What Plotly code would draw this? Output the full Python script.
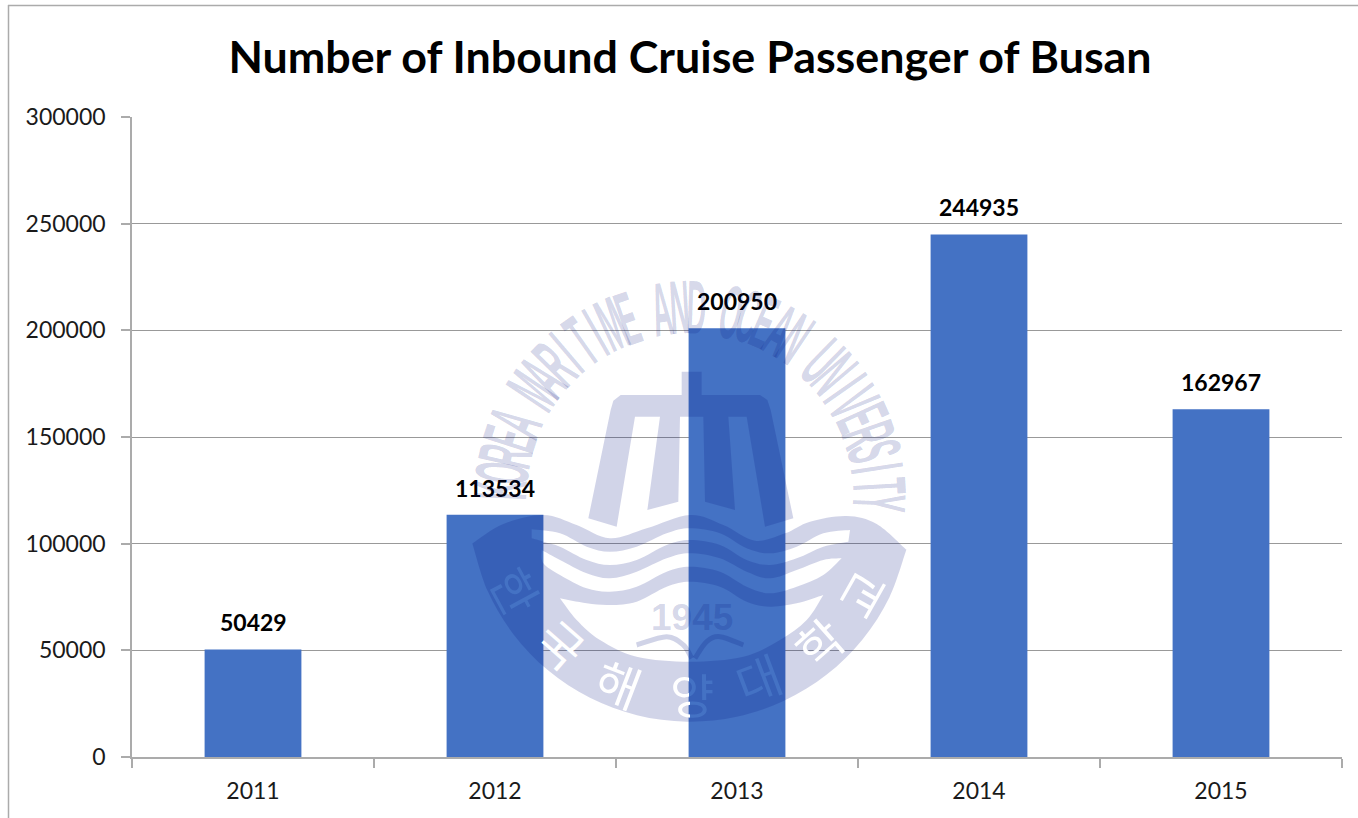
import math
import plotly.graph_objects as go

years = ["2011", "2012", "2013", "2014", "2015"]
passengers = [50429, 113534, 200950, 244935, 162967]
y_ticks = [0, 50000, 100000, 150000, 200000, 250000, 300000]
title_text = "Number of Inbound Cruise Passenger of Busan"
ring_text = "KOREA MARITIME AND OCEAN UNIVERSITY"
seal_korean = ["한", "국", "해", "양", "대", "학", "교"]
seal_year = "1945"

W, H = 1358, 818
L, R, T, B = 132, 1342, 117, 757
BAR = "#4472C4"
AXIS = "#ABABAB"
GRID = "#999999"
MARK = "rgb(0,17,125)"
MARK_A = "rgba(0,17,125,0.18)"
MARK_OP = 0.18


def px(x, y):
    return (x - L) / (R - L), (B - y) / (B - T)


def zm(p):
    return p[0] / 3 + 460, p[1] / 3 + 270


def fmt(p):
    a, b = px(*zm(p))
    return f"{a:.5f},{b:.5f}"


def curve(pts):
    """Catmull-Rom through pts, as cubic segments; assumes the pen is at pts[0]."""
    out = []
    for i in range(len(pts) - 1):
        p0 = pts[max(i - 1, 0)]
        p1 = pts[i]
        p2 = pts[i + 1]
        p3 = pts[min(i + 2, len(pts) - 1)]
        c1 = (p1[0] + (p2[0] - p0[0]) / 6, p1[1] + (p2[1] - p0[1]) / 6)
        c2 = (p2[0] - (p3[0] - p1[0]) / 6, p2[1] - (p3[1] - p1[1]) / 6)
        out.append(f"C{fmt(c1)} {fmt(c2)} {fmt(p2)}")
    return " ".join(out)


def closed(*parts):
    d = "M" + fmt(parts[0][0])
    for part in parts:
        d += f" L{fmt(part[0])} " + curve(part)
    return d + " Z"


# ---- emblem outlines (decoration, in reference crop coordinates)
top_wave = [(38, 820), (130, 762), (250, 735), (350, 765), (450, 805), (560, 775), (690, 735),
            (790, 765), (885, 812), (975, 790), (1050, 755), (1160, 738), (1250, 762), (1340, 840)]
cx, cy, rad = 690, 689, 666
a0 = math.atan2(840 - cy, 1340 - cx)
a1 = math.atan2(820 - cy, 38 - cx)
arc = [(cx + rad * math.cos(a0 + (a1 - a0) * i / 12), cy + rad * math.sin(a0 + (a1 - a0) * i / 12)) for i in range(13)]

hole1_top = [(215, 778), (300, 790), (380, 830), (450, 845), (530, 830), (620, 790), (690, 775),
             (780, 790), (860, 835), (930, 850), (1010, 830), (1090, 790), (1170, 780)]
hole1_bot = [(1165, 815), (1090, 830), (1010, 865), (930, 885), (860, 870), (780, 825), (690, 810),
             (620, 825), (530, 870), (450, 885), (380, 870), (300, 830), (250, 815), (215, 805)]
hole2_top = [(245, 840), (300, 870), (380, 910), (450, 925), (530, 905), (620, 865), (690, 850),
             (780, 865), (860, 905), (930, 925), (1010, 900), (1090, 870), (1145, 865)]
hole2_bot = [(1145, 865), (1090, 915), (1010, 950), (930, 970), (860, 950), (780, 905), (690, 890),
             (620, 905), (530, 950), (450, 965), (380, 955), (300, 915), (250, 880), (245, 840)]
hole3_top = [(300, 985), (380, 1000), (450, 1005), (530, 995), (620, 950), (690, 935), (780, 950),
             (860, 995), (930, 1010), (1010, 1000), (1090, 975)]
hole3_bot = [(1090, 975), (1040, 1050), (960, 1110), (850, 1160), (690, 1175), (530, 1160),
             (420, 1110), (350, 1050), (300, 985)]
mast = [(385, 745), (452, 420), (460, 392), (482, 375), (665, 375), (665, 305), (725, 305), (725, 375),
        (900, 375), (922, 390), (932, 420), (1000, 745), (915, 770), (860, 440), (805, 440), (825, 720),
        (735, 695), (730, 440), (660, 440), (655, 695), (562, 720), (600, 440), (525, 440), (470, 770)]

band_path = " ".join([closed(top_wave, arc), closed(hole1_top, hole1_bot), closed(hole2_top, hole2_bot),
                      closed(hole3_top, hole3_bot)])
mast_path = "M" + " L".join(fmt(p) for p in mast) + " Z"
ship_l = [(530, 1125), (620, 1100), (670, 1125), (695, 1165)]
ship_r = [(705, 1165), (740, 1115), (780, 1100), (850, 1125)]

shapes = [
    dict(type="line", xref="paper", yref="paper", x0=px(8.5, 0)[0], x1=px(8.5, 0)[0], y0=px(0, 5)[1], y1=px(0, 818)[1],
         line=dict(color=AXIS, width=1.5)),
    dict(type="line", xref="paper", yref="paper", x0=px(8, 0)[0], x1=px(1358, 0)[0], y0=px(0, 5.5)[1], y1=px(0, 5.5)[1],
         line=dict(color=AXIS, width=1.5)),
    dict(type="path", xref="paper", yref="paper", path=band_path, fillcolor=MARK, opacity=MARK_OP,
         line=dict(width=0), layer="above"),
    dict(type="path", xref="paper", yref="paper", path=mast_path, fillcolor=MARK, opacity=MARK_OP,
         line=dict(width=0), layer="above"),
]
for s in (ship_l, ship_r):
    shapes.append(dict(type="path", xref="paper", yref="paper", path="M" + fmt(s[0]) + " " + curve(s),
                       fillcolor="rgba(0,0,0,0)", opacity=MARK_OP, line=dict(color=MARK, width=5), layer="above"))

annotations = []
# data labels, anchored through the category index and value axes
for i, v in enumerate(passengers):
    annotations.append(dict(x=i, y=v, xref="x", yref="y", text=str(v), showarrow=False, yanchor="bottom",
                            yshift=11, font=dict(family="Lato", size=23, color="#000000", weight="bold")))

# ring letters
ccx, ccy, ring_r = 690, 497, 190
start, end = -88, 92
n = len(ring_text)
for i, ch in enumerate(ring_text):
    if ch == " ":
        continue
    ang = start + (end - start) * i / (n - 1)
    x = ccx + ring_r * math.sin(math.radians(ang))
    y = ccy - ring_r * math.cos(math.radians(ang))
    ax, ay = px(x, y)
    annotations.append(dict(x=ax, y=ay, xref="paper", yref="paper", text=ch, showarrow=False, textangle=ang,
                            xanchor="center", yanchor="middle",
                            font=dict(family="Liberation Sans", size=40, color=MARK_A, weight="bold")))

# Korean letters knocked out of the crescent
kor_pos = [(517, 590), (562, 643), (619, 682), (692, 693), (758, 677), (818, 642), (860, 593)]
kor_col = [BAR, "#FFFFFF", "#FFFFFF", "#FFFFFF", BAR, "#FFFFFF", "#FFFFFF"]
for ch, (x, y), c in zip(seal_korean, kor_pos, kor_col):
    ang = math.degrees(math.atan2(ccx - x, y - ccy))
    ax, ay = px(x, y)
    annotations.append(dict(x=ax, y=ay, xref="paper", yref="paper", text=ch, showarrow=False, textangle=ang,
                            xanchor="center", yanchor="middle",
                            font=dict(family="Noto Sans CJK KR", size=48, color=c)))

ax, ay = px(692, 617)
annotations.append(dict(x=ax, y=ay, xref="paper", yref="paper", text=seal_year, showarrow=False,
                        xanchor="center", yanchor="middle",
                        font=dict(family="Liberation Sans", size=37, color=MARK_A, weight="bold")))

fig = go.Figure(go.Bar(x=years, y=passengers, marker=dict(color=BAR, line=dict(width=0)), hoverinfo="x+y"))
fig.update_layout(
    width=W, height=H, autosize=False,
    margin=dict(l=L, r=W - R, t=T, b=H - B, pad=0),
    paper_bgcolor="#FFFFFF", plot_bgcolor="#FFFFFF",
    bargap=0.6, showlegend=False,
    font=dict(family="Lato", color="#1a1a1a"),
    title=dict(text=title_text, x=690 / W, xanchor="center", y=1 - 57 / H, yanchor="middle",
               font=dict(family="Lato", size=44.8, color="#000000", weight="bold")),
    xaxis=dict(type="category", categoryorder="array", categoryarray=years, range=[-0.5, 4.5],
               tickson="boundaries", ticks="outside", ticklen=9, tickwidth=1.5, tickcolor=AXIS, tickangle=0,
               showline=True, linecolor=AXIS, linewidth=1.5, showgrid=False, zeroline=False,
               tickfont=dict(family="Lato", size=23, color="#1a1a1a"), ticklabelstandoff=13),
    yaxis=dict(range=[0, 300000], tickvals=y_ticks, ticktext=[str(t) for t in y_ticks], ticks="outside",
               ticklen=9, tickwidth=1.5, tickcolor=AXIS, showline=True, linecolor=AXIS, linewidth=1.5,
               showgrid=True, gridcolor=GRID, gridwidth=1.2, zeroline=False,
               tickfont=dict(family="Lato", size=23, color="#1a1a1a"), ticklabelstandoff=11),
    shapes=shapes, annotations=annotations,
)

post = """
document.body.style.margin = '0';
var svg = document.querySelector('svg.main-svg');
var ns = 'http://www.w3.org/2000/svg';
var defs = document.createElementNS(ns, 'defs');
var g = document.createElementNS(ns, 'linearGradient');
g.setAttribute('id', 'kgrad');
[['0', '#FFFFFF'], ['0.44', '#FFFFFF'], ['0.44', '%s'], ['1', '%s']].forEach(function(p){
  var st = document.createElementNS(ns, 'stop');
  st.setAttribute('offset', p[0]);
  st.setAttribute('stop-color', p[1]);
  g.appendChild(st);
});
defs.appendChild(g);
svg.appendChild(defs);
document.querySelectorAll('.annotation-text').forEach(function(t){
  var s = t.textContent;
  if (s.length === 1 && s >= 'A' && s <= 'Z') {
    t.style.transformBox = 'fill-box';
    t.style.transformOrigin = 'center';
    t.style.transform = 'scale(0.68,1.9)';
  }
  if (s === '양') { t.style.fill = 'url(#kgrad)'; }
});
""" % (BAR, BAR)
fig.write_html("out.html", post_script=post, config=dict(displayModeBar=False))
